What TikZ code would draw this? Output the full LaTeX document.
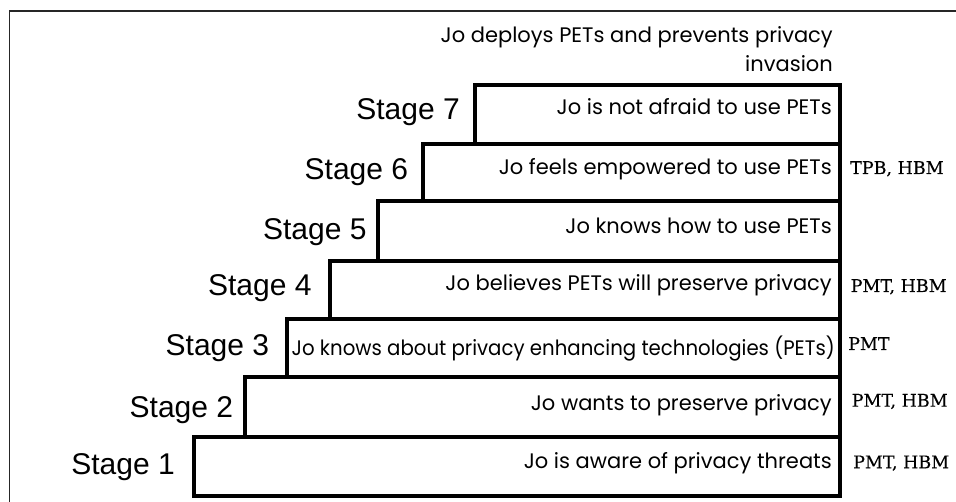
\documentclass[tikz,border=0pt]{standalone}
\usepackage{fontspec}
\usetikzlibrary{fit}
\newfontfamily\stagefont{Liberation Sans}
\newfontfamily\boxfont{Poppins}
\newfontfamily\boxfontnarrow[FakeStretch=0.94]{Poppins}
\newfontfamily\theoryfont[FakeBold=0.4]{DejaVu Serif}
\tikzset{
  stagebox/.style={draw=black, line width=4pt, inner sep=0pt, fill=white},
  stagelabel/.style={anchor=base east, inner sep=0pt, font=\stagefont\fontsize{30}{34}\selectfont},
  boxtext/.style={anchor=base east, inner sep=0pt, font=\boxfont\fontsize{21}{28.7}\selectfont},
  theory/.style={anchor=base west, inner sep=0pt, font=\theoryfont\fontsize{17.5}{20}\selectfont},
}
\begin{document}
\begin{tikzpicture}[x=1pt,y=-1pt]
\useasboundingbox (0,0) rectangle (956,502);
\fill[white] (0,0) rectangle (956,502);
% frame
\coordinate (fbl) at (9.5,502);
\coordinate (ftl) at (9.5,11);
\coordinate (ftr) at (956,11);
\draw[line width=1.3pt, black!85] (fbl) -- (ftl) -- (ftr);
% top text
\node[boxtext, align=right] (top) at (833,71.7) {Jo deploys PETs and prevents privacy\\invasion};
% boxes
\node[stagebox, fit={(475,85) (840,143.7)}] (b7) {};
\node[stagebox, fit={(422.7,143.7) (840,201.3)}] (b6) {};
\node[stagebox, fit={(378,201.3) (840,261)}] (b5) {};
\node[stagebox, fit={(330.3,261) (840,319)}] (b4) {};
\node[stagebox, fit={(287,319) (840,377)}] (b3) {};
\node[stagebox, fit={(245.3,377) (840,437.3)}] (b2) {};
\node[stagebox, fit={(193.7,437.3) (840,495.7)}] (b1) {};
% texts in boxes
\node[boxtext] (t7) at (832,115) {Jo is not afraid to use PETs};
\node[boxtext] (t6) at (832,175) {Jo feels empowered to use PETs};
\node[boxtext] (t5) at (832,233.3) {Jo knows how to use PETs};
\node[boxtext] (t4) at (832,291) {Jo believes PETs will preserve privacy};
\node[boxtext, font=\boxfontnarrow\fontsize{21}{28.7}\selectfont] (t3) at (835,356) {Jo knows about privacy enhancing technologies (PETs)};
\node[boxtext] (t2) at (832,410) {Jo wants to preserve privacy};
\node[boxtext] (t1) at (832,468) {Jo is aware of privacy threats};
% stage labels
\node[stagelabel] (s7) at (460,120) {Stage 7};
\node[stagelabel] (s6) at (408.3,180) {Stage 6};
\node[stagelabel] (s5) at (366.7,240) {Stage 5};
\node[stagelabel] (s4) at (311.7,296) {Stage 4};
\node[stagelabel] (s3) at (269.3,356) {Stage 3};
\node[stagelabel] (s2) at (233.3,417.7) {Stage 2};
\node[stagelabel] (s1) at (175,474) {Stage 1};
% theories
\node[theory] (th6) at (850,174) {TPB, HBM};
\node[theory] (th4) at (850.5,292) {PMT, HBM};
\node[theory] (th3) at (848,350) {PMT};
\node[theory] (th2) at (851.5,406.7) {PMT, HBM};
\node[theory] (th1) at (853,468.3) {PMT, HBM};
\end{tikzpicture}
\end{document}
